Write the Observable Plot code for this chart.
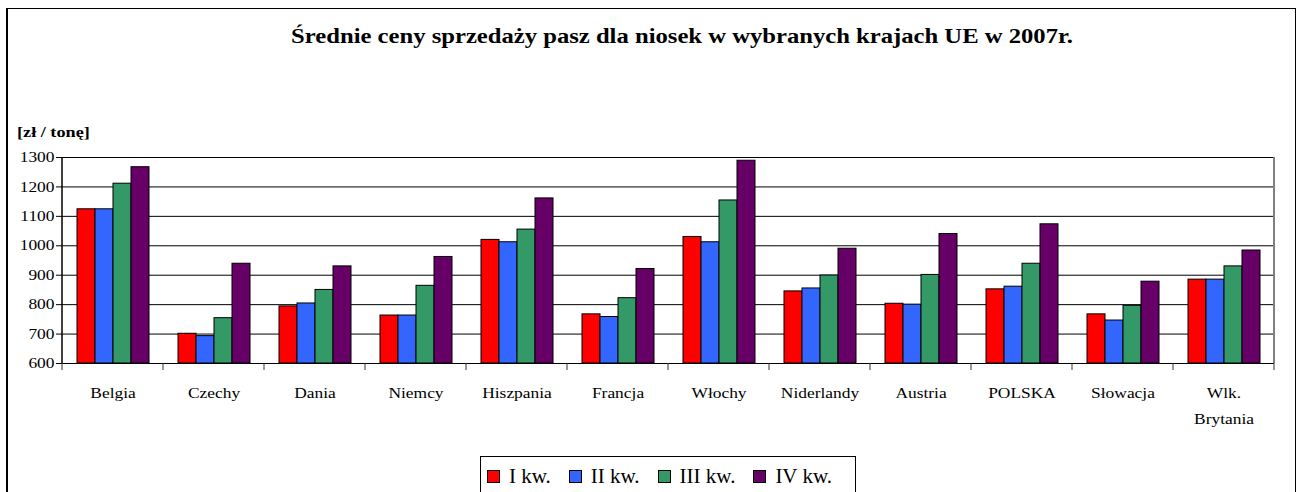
<!DOCTYPE html>
<html>
<head>
<meta charset="utf-8">
<script src="https://cdn.jsdelivr.net/npm/d3@7"></script>
<script src="https://cdn.jsdelivr.net/npm/@observablehq/plot@0.6"></script>
<style>
  html, body { margin: 0; padding: 0; background: #fff; }
  #wrap { position: relative; width: 1297px; height: 492px; overflow: hidden; font-family: "Liberation Serif", "Times New Roman", serif; color: #000; }
  #border { position: absolute; left: 6px; top: 8px; width: 1287px; height: 520px; border: 1px solid #000; border-left-width: 2px; pointer-events: none; }
  #title { position: absolute; left: 0; width: 1363px; top: 25px; text-align: center; font-size: 22px; line-height: 22px; font-weight: bold; white-space: nowrap; }
  #title span { display: inline-block; transform: scaleX(1.12); }
  #ylabel { position: absolute; left: 17px; top: 126px; font-size: 14px; line-height: 14px; font-weight: bold; white-space: nowrap; transform: scaleX(1.3); transform-origin: left center; }
  #chart { position: absolute; left: 9px; top: 110px; }
  #legend { position: absolute; left: 480px; top: 456px; width: 376px; border: 1px solid #000; box-sizing: border-box; display: flex; align-items: center; padding-left: 6px; height: 44px; padding-bottom: 3px; }
  .item { display: flex; align-items: center; margin-right: 18px; font-size: 21px; line-height: 21px; white-space: nowrap; }
  .sw { width: 11px; height: 11px; border: 1px solid #000; margin-right: 9px; }
</style>
</head>
<body>
<div id="wrap">
  <div id="title"><span>Średnie ceny sprzedaży pasz dla niosek w wybranych krajach UE w 2007r.</span></div>
  <div id="ylabel">[zł / tonę]</div>
  <div id="chart"></div>
  <div id="legend"></div>
  <div id="border"></div>
</div>
<script>
const countries = ["Belgia", "Czechy", "Dania", "Niemcy", "Hiszpania", "Francja", "Włochy", "Niderlandy", "Austria", "POLSKA", "Słowacja", "Wlk. Brytania"];
const quarters = ["I kw.", "II kw.", "III kw.", "IV kw."];
const q1 = [1124, 701, 794, 763, 1020, 767, 1030, 845, 803, 852, 767, 885];
const q2 = [1124, 693, 804, 763, 1012, 758, 1012, 855, 800, 861, 746, 885];
const q3 = [1211, 754, 850, 864, 1055, 822, 1154, 899, 901, 939, 796, 930];
const q4 = [1267, 939, 930, 962, 1161, 921, 1289, 990, 1040, 1073, 878, 984];
const yTicks = [600, 700, 800, 900, 1000, 1100, 1200, 1300];
const colors = ["#ff0000", "#3366ff", "#339966", "#660066"];

const series = [q1, q2, q3, q4];
const data = [];
countries.forEach((c, i) => quarters.forEach((q, j) => data.push({country: c, quarter: q, value: series[j][i]})));
const base = d3.min(yTicks);

const chart = Plot.plot({
  width: 1284,
  height: 330,
  marginLeft: 51,
  marginRight: 18,
  marginTop: 47,
  marginBottom: 77,
  style: {fontFamily: "'Liberation Serif', 'Times New Roman', serif", fontSize: "14.5px", color: "#000", background: "transparent"},
  fx: {domain: countries, padding: 0, label: null},
  x: {domain: quarters, paddingInner: 0, paddingOuter: 0.736, axis: null},
  y: {domain: [base, d3.max(yTicks)], label: null},
  color: {domain: quarters, range: colors},
  marks: [
    Plot.ruleY(yTicks, {stroke: "#000", strokeWidth: 1}),
    Plot.barY(data, {fx: "country", x: "quarter", y1: base, y2: "value", fill: "quarter", stroke: "#000", strokeWidth: 1}),
    Plot.axisY({ticks: yTicks, tickFormat: d => String(d), tickSize: 6, tickPadding: 2, label: null, stroke: "#000", fill: "#000"}),
    Plot.axisFx({anchor: "bottom", tickSize: 0, tickPadding: 15, label: null, lineHeight: 1.85, fill: "#000",
      tickFormat: d => d.replace("Wlk. ", "Wlk.\n")})
  ]
});
document.getElementById("chart").appendChild(chart);

// structural lines placed through the library's own scales
const svg = d3.select(chart);
const fx = chart.scale("fx"), y = chart.scale("y");
const left = fx.apply(countries[0]);
const right = fx.apply(countries[countries.length - 1]) + fx.bandwidth;
const yTop = y.apply(d3.max(yTicks)), yBot = y.apply(base);
const g = svg.append("g");
g.append("line").attr("x1", right).attr("x2", right).attr("y1", yTop).attr("y2", yBot).attr("stroke", "#808080").attr("stroke-width", 2);
g.append("line").attr("x1", left).attr("x2", left).attr("y1", yTop).attr("y2", yBot).attr("stroke", "#000").attr("stroke-width", 1.5);
const bounds = countries.map(c => fx.apply(c)).concat([right]);
g.selectAll("line.tk").data(bounds).join("line").attr("class", "tk")
  .attr("x1", d => d).attr("x2", d => d).attr("y1", yBot).attr("y2", yBot + 7).attr("stroke", "#333");

// horizontally widen axis texts like the reference rendering
svg.selectAll("text").each(function() {
  const tspans = this.querySelectorAll("tspan");
  const nodes = tspans.length ? Array.from(tspans) : [this];
  nodes.forEach(n => {
    const w = n.getComputedTextLength();
    if (w > 0) { n.setAttribute("textLength", w * 1.2); n.setAttribute("lengthAdjust", "spacingAndGlyphs"); }
  });
});

// legend
const legend = d3.select("#legend");
quarters.forEach((q, i) => {
  const it = legend.append("div").attr("class", "item");
  it.append("div").attr("class", "sw").style("background", colors[i]);
  it.append("span").text(q);
});
</script>
</body>
</html>
